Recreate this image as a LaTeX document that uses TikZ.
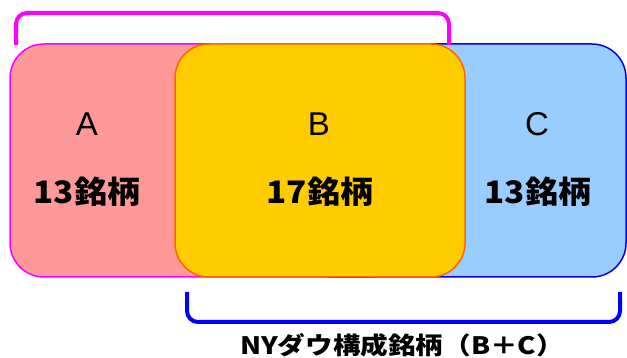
\documentclass[tikz,border=0pt]{standalone}
\usepackage{fontspec}
\newfontfamily\cjk{Noto Sans CJK JP}
\setmainfont{Liberation Sans}
\newfontfamily\lettfont{Liberation Sans}
\definecolor{apink}{HTML}{FF9999}
\definecolor{amag}{HTML}{FF00FF}
\definecolor{byel}{HTML}{FFCC00}
\definecolor{bora}{HTML}{FF6600}
\definecolor{cblue}{HTML}{99CCFF}
\definecolor{cbord}{HTML}{0000FF}
\begin{document}
\begin{tikzpicture}[x=1pt,y=-1pt,
  setbox/.style={rounded corners=34pt, line width=1.5pt, inner sep=0pt, minimum height=233pt},
  letter/.style={font=\lettfont\fontsize{33}{33}\selectfont, inner sep=0pt},
  count/.style={font=\cjk\bfseries\fontsize{31}{31}\selectfont, inner sep=0pt},
  bracket/.style={line width=4pt, rounded corners=11pt},
  caption/.style={font=\cjk\bfseries\fontsize{24}{24}\selectfont, inner sep=0pt}]
\useasboundingbox (0,0) rectangle (627,358);
% sets
\node[setbox, draw=amag, fill=apink, minimum width=390pt] (A) at (205,160.5) {};
\node[setbox, draw=cbord, fill=cblue, minimum width=326pt] (C) at (463,160.5) {};
\node[setbox, draw=bora, fill=byel, minimum width=290pt] (B) at (320,160.5) {};
% labels
\node[letter] (la) at (87,124) {A};
\node[letter] (lb) at (319,124) {B};
\node[letter] (lc) at (537,124) {C};
\node[count] (na) at (87,192) {\scalebox{1.07}[1]{13銘柄}};
\node[count] (nb) at (320,192) {\scalebox{1.07}[1]{17銘柄}};
\node[count] (nc) at (538,192) {\scalebox{1.07}[1]{13銘柄}};
% brackets
\coordinate (t1) at (16,45);
\coordinate (t2) at (449,45);
\draw[bracket, draw=amag] (t1) -- (16,13) -- (449,13) -- (t2);
\coordinate (b1) at (187,292);
\coordinate (b2) at (620,292);
\draw[bracket, draw=cbord] (b1) -- (187,322) -- (620,322) -- (b2);
\node[caption] (cap) at (402,345) {\scalebox{1.15}[1]{NYダウ構成銘柄（B＋C）}};
\end{tikzpicture}
\end{document}
